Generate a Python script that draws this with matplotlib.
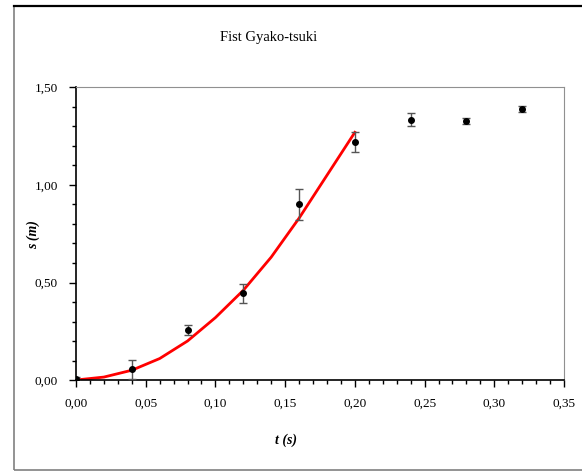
import matplotlib
matplotlib.use("Agg")
import matplotlib.pyplot as plt
from matplotlib.patches import Rectangle
from matplotlib.ticker import MultipleLocator, FuncFormatter

# measured positions (s, in m) with their error
t_meas = [0.00, 0.04, 0.08, 0.12, 0.16, 0.20, 0.24, 0.28, 0.32]
s_meas = [0.005, 0.055, 0.255, 0.445, 0.90, 1.22, 1.335, 1.33, 1.39]
s_err = [0.01, 0.05, 0.025, 0.048, 0.08, 0.053, 0.035, 0.015, 0.017]

# fitted curve for the acceleration phase
t_fit = [0.00, 0.02, 0.04, 0.06, 0.08, 0.10, 0.12, 0.14, 0.16, 0.18, 0.20]
s_fit = [0.00, 0.015, 0.05, 0.11, 0.20, 0.32, 0.46, 0.63, 0.83, 1.05, 1.27]

title = "Fist Gyako-tsuki"
serif = ["Liberation Serif", "DejaVu Serif"]

fig = plt.figure(figsize=(5.82, 4.73), dpi=100)
W, H = 582, 473

# outer frame
fig.add_artist(Rectangle((14 / W, 3 / H), 1.0, (467 - 3) / H, transform=fig.transFigure,
                         fill=False, edgecolor="#808080", linewidth=1.2))
fig.add_artist(plt.Line2D([14 / W, 1.0], [(H - 6) / H] * 2, transform=fig.transFigure,
                          color="black", linewidth=1.6))

ax = fig.add_axes([76 / W, (H - 380) / H, (564 - 76) / W, (380 - 87.5) / H])

ax.plot(t_fit, s_fit, color="red", linewidth=2.0, zorder=2)
ax.errorbar(t_meas, s_meas, yerr=s_err, fmt="o", color="black", markersize=4,
            ecolor="#555555", elinewidth=1.0, capsize=3, capthick=1.0, zorder=3)

ax.set_xlim(0, 0.35)
ax.set_ylim(0, 1.5)
ax.xaxis.set_major_locator(MultipleLocator(0.05))
ax.xaxis.set_minor_locator(MultipleLocator(0.01))
ax.yaxis.set_major_locator(MultipleLocator(0.5))
ax.yaxis.set_minor_locator(MultipleLocator(0.1))
comma = FuncFormatter(lambda v, p: f"{v:.2f}".replace(".", ","))
ax.xaxis.set_major_formatter(comma)
ax.yaxis.set_major_formatter(comma)

ax.tick_params(which="major", direction="out", length=5, width=1, labelsize=9.5, pad=8)
ax.tick_params(which="minor", direction="out", length=3, width=1)
for lab in ax.get_xticklabels() + ax.get_yticklabels():
    lab.set_family(serif)

for side in ("top", "right"):
    ax.spines[side].set_color("#909090")
for side in ("left", "bottom"):
    ax.spines[side].set_color("black")
    ax.spines[side].set_linewidth(1.2)

fig.text(269 / W, (H - 38) / H, title, ha="center", va="center", family=serif, fontsize=10.5)
fig.text(286 / W, (H - 440) / H, "t (s)", ha="center", va="center", family=serif,
         fontsize=10, fontweight="bold", style="italic")
fig.text(33 / W, (H - 235) / H, "s (m)", ha="center", va="center", rotation=90, family=serif,
         fontsize=10, fontweight="bold", style="italic")

fig.savefig("out.png", dpi=100)
